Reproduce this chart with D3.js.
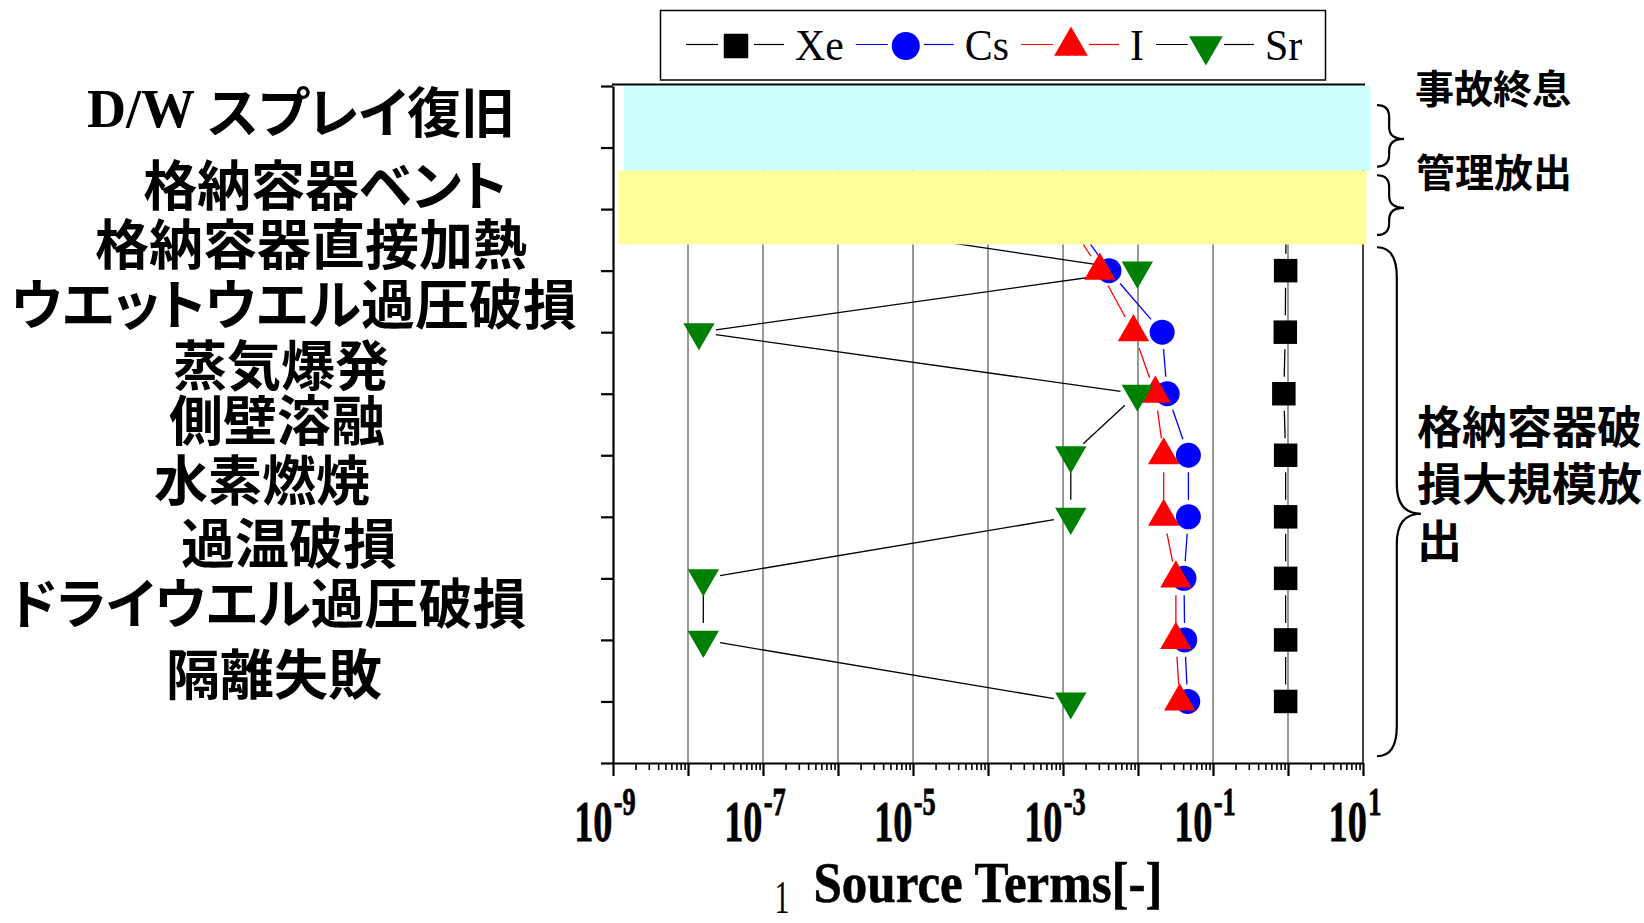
<!DOCTYPE html>
<html>
<head>
<meta charset="utf-8">
<script src="https://cdn.jsdelivr.net/npm/d3@7"></script>
<style>
  body { margin: 0; background: #fff; }
  svg { display: block; }
</style>
</head>
<body>
<svg width="1644" height="923"></svg>
<script>
// categories, top to bottom (D/W spray row has no visible data)
var categories = ["D/W スプレイ復旧", "格納容器ベント", "格納容器直接加熱", "ウエットウエル過圧破損",
                  "蒸気爆発", "側壁溶融", "水素燃焼", "過温破損", "ドライウエル過圧破損", "隔離失敗"];
var seriesNames = ["Xe", "Cs", "I", "Sr"];
var xeValues = [null, 0.95, 0.93, 0.92, 0.88, 0.93, 0.93, 0.93, 0.93, 0.93];
var csValues = [null, 1.1e-3, 4.1e-3, 2.1e-2, 2.45e-2, 4.7e-2, 4.7e-2, 4.1e-2, 4.2e-2, 4.6e-2];
var iValues  = [null, 9.5e-4, 3.1e-3, 8.7e-3, 1.7e-2, 2.2e-2, 2.2e-2, 3.2e-2, 3.2e-2, 3.6e-2];
var srValues = [null, 3.0e-8, 9.8e-3, 1.4e-8, 9.8e-3, 1.27e-3, 1.27e-3, 1.6e-8, 1.6e-8, 1.27e-3];
var xTickExponents = [-9, -7, -5, -3, -1, 1];
var groupLabels = ["事故終息", "管理放出"];
var bigGroupLines = ["格納容器破", "損大規模放", "出"];

var jp = '"Noto Sans CJK JP", "Noto Sans", sans-serif',
    serif = '"Liberation Serif", "Times New Roman", serif';

var svg = d3.select("svg"),
    margin = {top: 86, right: 281, bottom: 160, left: 613},
    width = +svg.attr("width") - margin.left - margin.right,
    height = +svg.attr("height") - margin.top - margin.bottom;

var x = d3.scaleLog().domain([1e-9, 10]).range([margin.left, margin.left + width]);
// row index: 0 = top frame, 11 = bottom frame, categories sit on 1..10
var y = d3.scaleLinear().domain([0, 11]).range([margin.top, margin.top + height]);

var decades = d3.range(-9, 2).map(function(e) { return Math.pow(10, e); });
var minors = [];
decades.slice(0, -1).forEach(function(d) { for (var k = 2; k < 10; k++) minors.push(d * k); });

// grid
svg.append("g").selectAll("line")
  .data(decades.slice(1, -1))
  .enter().append("line")
    .attr("x1", function(d) { return x(d); }).attr("x2", function(d) { return x(d); })
    .attr("y1", y(0)).attr("y2", y(11))
    .attr("stroke", "#333").attr("stroke-width", 1);

// right frame (hidden under the bands at the top)
svg.append("line")
    .attr("x1", x(10)).attr("x2", x(10)).attr("y1", y(0)).attr("y2", y(11))
    .attr("stroke", "#000").attr("stroke-width", 1.5);

var series = [
  {name: "Xe", values: xeValues, line: "#000", fill: "#000", shape: "square"},
  {name: "Cs", values: csValues, line: "#0000ff", fill: "#0000ff", shape: "circle"},
  {name: "I",  values: iValues,  line: "#ff0000", fill: "#ff0000", shape: "up"},
  {name: "Sr", values: srValues, line: "#000", fill: "#008000", shape: "down"}
];

function symbolPath(shape, s) {
  if (shape === "square") return d3.symbol(d3.symbolSquare, s * s)();
  if (shape === "circle") return d3.symbol(d3.symbolCircle, Math.PI * s * s / 4)();
  return d3.symbol(d3.symbolTriangle, Math.sqrt(3) / 4 * s * s * 1.35)();
}

var gap = 17;
var gLines = svg.append("g"), gMarks = svg.append("g");

series.forEach(function(s) {
  var pts = [];
  s.values.forEach(function(v, i) { if (v != null) pts.push([x(v), y(i + 1)]); });
  for (var k = 0; k < pts.length - 1; k++) {
    var a = pts[k], b = pts[k + 1],
        dx = b[0] - a[0], dy = b[1] - a[1], len = Math.sqrt(dx * dx + dy * dy);
    if (len <= 2 * gap) continue;
    var ux = dx / len, uy = dy / len;
    gLines.append("line")
        .attr("x1", a[0] + ux * gap).attr("y1", a[1] + uy * gap)
        .attr("x2", b[0] - ux * gap).attr("y2", b[1] - uy * gap)
        .attr("stroke", s.line).attr("stroke-width", 1.3);
  }
});

series.forEach(function(s) {
  var size = s.shape === "square" ? 23.5 : s.shape === "circle" ? 25 : 27;
  gMarks.append("g").selectAll("path")
    .data(s.values.map(function(v, i) { return {v: v, i: i}; }).filter(function(d) { return d.v != null; }))
    .enter().append("path")
      .attr("d", symbolPath(s.shape, size))
      .attr("transform", function(d) {
        return "translate(" + x(d.v) + "," + y(d.i + 1) + ")" + (s.shape === "down" ? " rotate(180)" : "");
      })
      .attr("fill", s.fill);
});

// category bands (drawn over the data)
var bands = [
  {x0: 1.4e-9, x1: 12.6, y0: 0, y1: 1.375, color: "#ccffff"},
  {x0: 1.18e-9, x1: 11.1, y0: 1.375, y1: 2.575, color: "#ffff99"}
];
svg.append("g").selectAll("rect")
  .data(bands)
  .enter().append("rect")
    .attr("x", function(d) { return x(d.x0); })
    .attr("width", function(d) { return x(d.x1) - x(d.x0); })
    .attr("y", function(d) { return y(d.y0); })
    .attr("height", function(d) { return y(d.y1) - y(d.y0); })
    .attr("fill", function(d) { return d.color; });

// axes
var yAxis = svg.append("g")
    .attr("transform", "translate(" + margin.left + ",0)")
    .call(d3.axisLeft(y).tickValues(d3.range(0, 12)).tickSize(12).tickSizeOuter(0).tickFormat(""));
yAxis.selectAll("path, line").attr("stroke", "#000").attr("stroke-width", 2.2);

var xAxis = svg.append("g")
    .attr("transform", "translate(0," + y(11) + ")")
    .call(d3.axisBottom(x).tickValues(decades).tickSize(13).tickSizeOuter(0).tickFormat(""));
xAxis.selectAll("path, line").attr("stroke", "#000").attr("stroke-width", 2.2);

var xMinor = svg.append("g")
    .attr("transform", "translate(0," + y(11) + ")")
    .call(d3.axisBottom(x).tickValues(minors).tickSize(7).tickFormat(""));
xMinor.select(".domain").remove();
xMinor.selectAll("line").attr("stroke", "#000").attr("stroke-width", 1.6);

svg.append("line")
    .attr("x1", x(1e-9) - 1).attr("x2", x(10) + 2).attr("y1", y(0) - 1.5).attr("y2", y(0) - 1.5)
    .attr("stroke", "#000").attr("stroke-width", 2.2);

// tick labels 10^n
xTickExponents.forEach(function(e) {
  var t = svg.append("g")
      .attr("transform", "translate(" + (x(Math.pow(10, e)) - 8) + ",841) scale(0.66,1)")
    .append("text")
      .attr("text-anchor", "middle")
      .attr("font-family", serif).attr("font-weight", "bold")
      .attr("stroke", "#000").attr("stroke-width", 0.8);
  t.append("tspan").attr("font-size", 58).text("10");
  t.append("tspan").attr("font-size", 40).attr("dy", -26).attr("dx", 2).text(String(e));
});

svg.append("g")
    .attr("transform", "translate(988,902) scale(0.88,1)")
  .append("text")
    .attr("text-anchor", "middle")
    .attr("font-family", serif).attr("font-weight", "bold").attr("font-size", 58)
    .attr("stroke", "#000").attr("stroke-width", 0.6)
    .text("Source Terms[-]");

svg.append("g")
    .attr("transform", "translate(782,913) scale(0.65,1)")
  .append("text")
    .attr("text-anchor", "middle")
    .attr("font-family", serif).attr("font-size", 46)
    .text("1");

// category labels (loosely placed text boxes, about half a row above each tick)
var labelNudge = [[11, -5], [35, 7], [21, 5], [4, 3], [-9, 3], [-13, -4], [-28, -5], [-1, -4], [-22, -5], [-16, 4]];
categories.forEach(function(c, i) {
  var t = svg.append("text")
      .attr("x", 290 + labelNudge[i][0])
      .attr("y", y(i + 1) - 34 + labelNudge[i][1])
      .attr("text-anchor", "middle")
      .attr("dominant-baseline", "central")
      .attr("font-family", jp).attr("font-weight", "bold").attr("font-size", 54)
      .style("font-feature-settings", '"palt"');
  if (c.indexOf("D/W") === 0) {
    t.append("tspan").attr("font-family", serif).text("D/W ");
    t.append("tspan").text(c.slice(4));
  } else {
    t.text(c);
  }
});

// braces and group annotations on the right
function brace(x0, y0, y1, ym, w, r) {
  var xm = x0 + w * 0.45, xt = x0 + w;
  return "M" + x0 + "," + y0 +
    "Q" + xm + "," + y0 + " " + xm + "," + (y0 + r) +
    "L" + xm + "," + (ym - r) +
    "Q" + xm + "," + ym + " " + xt + "," + ym +
    "Q" + xm + "," + ym + " " + xm + "," + (ym + r) +
    "L" + xm + "," + (y1 - r) +
    "Q" + xm + "," + y1 + " " + x0 + "," + y1;
}
var braces = [
  {y0: 0.31, y1: 1.31, tip: 0.86, w: 27, r: 12},
  {y0: 1.45, y1: 2.42, tip: 1.98, w: 27, r: 12},
  {y0: 2.62, y1: 10.89, tip: 6.95, w: 44, r: 30}
];
svg.append("g").selectAll("path")
  .data(braces)
  .enter().append("path")
    .attr("d", function(d) { return brace(1377, y(d.y0), y(d.y1), y(d.tip), d.w, d.r); })
    .attr("fill", "none").attr("stroke", "#000").attr("stroke-width", 2.2);

svg.append("text")
    .attr("x", 1415).attr("y", 86).attr("dominant-baseline", "central")
    .attr("font-family", jp).attr("font-weight", "bold").attr("font-size", 39)
    .text(groupLabels[0]);
svg.append("text")
    .attr("x", 1416).attr("y", 170).attr("dominant-baseline", "central")
    .attr("font-family", jp).attr("font-weight", "bold").attr("font-size", 39)
    .text(groupLabels[1]);
bigGroupLines.forEach(function(s, i) {
  svg.append("text")
      .attr("x", 1417).attr("y", 424 + i * 57).attr("dominant-baseline", "central")
      .attr("font-family", jp).attr("font-weight", "bold").attr("font-size", 45)
      .text(s);
});

// legend
var legend = svg.append("g");
legend.append("rect")
    .attr("x", 660.5).attr("y", 10.5).attr("width", 665).attr("height", 69.5)
    .attr("fill", "#fff").attr("stroke", "#000").attr("stroke-width", 1.5);
var cursor = 686;
series.forEach(function(s) {
  var ly = 44.5;
  legend.append("line").attr("x1", cursor).attr("x2", cursor + 32).attr("y1", ly).attr("y2", ly)
      .attr("stroke", s.line).attr("stroke-width", 1.2);
  legend.append("line").attr("x1", cursor + 68).attr("x2", cursor + 98).attr("y1", ly).attr("y2", ly)
      .attr("stroke", s.line).attr("stroke-width", 1.2);
  var size = s.shape === "square" ? 24.5 : s.shape === "circle" ? 28 : 29;
  legend.append("path")
      .attr("d", symbolPath(s.shape, size))
      .attr("transform", "translate(" + (cursor + 50) + ",46)" + (s.shape === "down" ? " rotate(180)" : ""))
      .attr("fill", s.fill);
  var t = legend.append("g")
      .attr("transform", "translate(" + (cursor + 109) + ",60) scale(0.93,1)")
    .append("text")
      .attr("font-family", serif).attr("font-size", 45)
      .text(s.name);
  cursor += 109 + t.node().getComputedTextLength() * 0.93 + 12;
});
</script>
</body>
</html>
